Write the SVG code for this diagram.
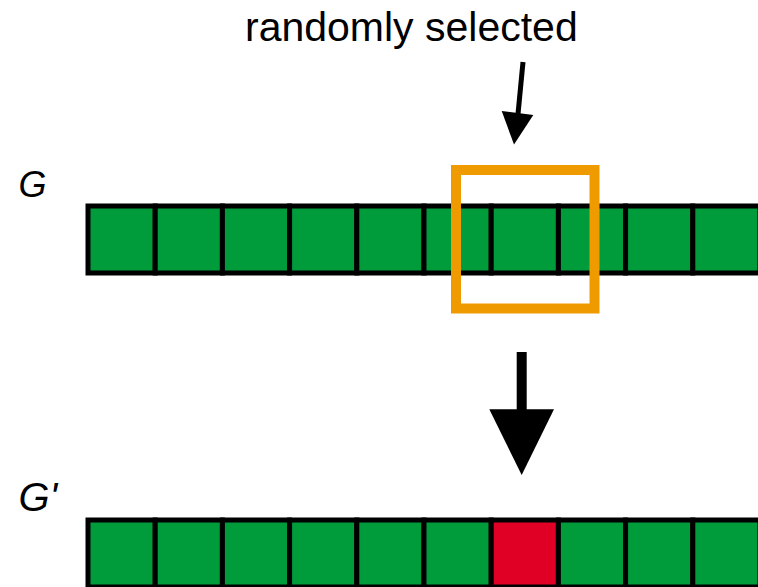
<svg xmlns="http://www.w3.org/2000/svg" width="758" height="587" viewBox="0 0 758 587">
<style>
.cell{fill:#009B3A;stroke:#000;stroke-width:5}
.red{fill:#E00025;stroke:#000;stroke-width:5}
.lbl{font-family:"Liberation Sans",Arial,sans-serif;fill:#000}
</style>
<rect width="758" height="587" fill="#fff"/>
<g id="label-G"><text class="lbl" x="18.5" y="196.5" font-size="36" font-style="italic">G</text></g>
<g id="label-Gprime"><text class="lbl" x="18.5" y="511" font-size="40" font-style="italic">G'</text></g>
<g id="row-G">
<rect class="cell" x="88" y="206" width="67.2" height="67"/>
<rect class="cell" x="155.2" y="206" width="67.2" height="67"/>
<rect class="cell" x="222.4" y="206" width="67.2" height="67"/>
<rect class="cell" x="289.6" y="206" width="67.2" height="67"/>
<rect class="cell" x="356.8" y="206" width="67.2" height="67"/>
<rect class="cell" x="424" y="206" width="67.2" height="67"/>
<rect class="cell" x="491.2" y="206" width="67.2" height="67"/>
<rect class="cell" x="558.4" y="206" width="67.2" height="67"/>
<rect class="cell" x="625.6" y="206" width="67.2" height="67"/>
<rect class="cell" x="692.8" y="206" width="67.2" height="67"/>
</g>
<g id="row-Gprime">
<rect class="cell" x="88" y="520" width="67.2" height="67"/>
<rect class="cell" x="155.2" y="520" width="67.2" height="67"/>
<rect class="cell" x="222.4" y="520" width="67.2" height="67"/>
<rect class="cell" x="289.6" y="520" width="67.2" height="67"/>
<rect class="cell" x="356.8" y="520" width="67.2" height="67"/>
<rect class="cell" x="424" y="520" width="67.2" height="67"/>
<rect class="red" x="491.2" y="520" width="67.2" height="67"/>
<rect class="cell" x="558.4" y="520" width="67.2" height="67"/>
<rect class="cell" x="625.6" y="520" width="67.2" height="67"/>
<rect class="cell" x="692.8" y="520" width="67.2" height="67"/>
</g>
<g id="selection"><rect x="456" y="170" width="138.5" height="138.5" fill="none" stroke="#EF9B00" stroke-width="10"/></g>
<g id="label-random"><text class="lbl" x="245" y="40.5" font-size="41">randomly selected</text></g>
<g id="connectors">
<line x1="523" y1="62" x2="518" y2="114" stroke="#000" stroke-width="5"/>
<polygon points="501.7,111 533.3,115 514,144.5" fill="#000"/>
<rect x="516.7" y="352" width="10" height="58" fill="#000"/>
<polygon points="489.3,409.3 554,409.3 521.7,475" fill="#000"/>
</g>
</svg>
